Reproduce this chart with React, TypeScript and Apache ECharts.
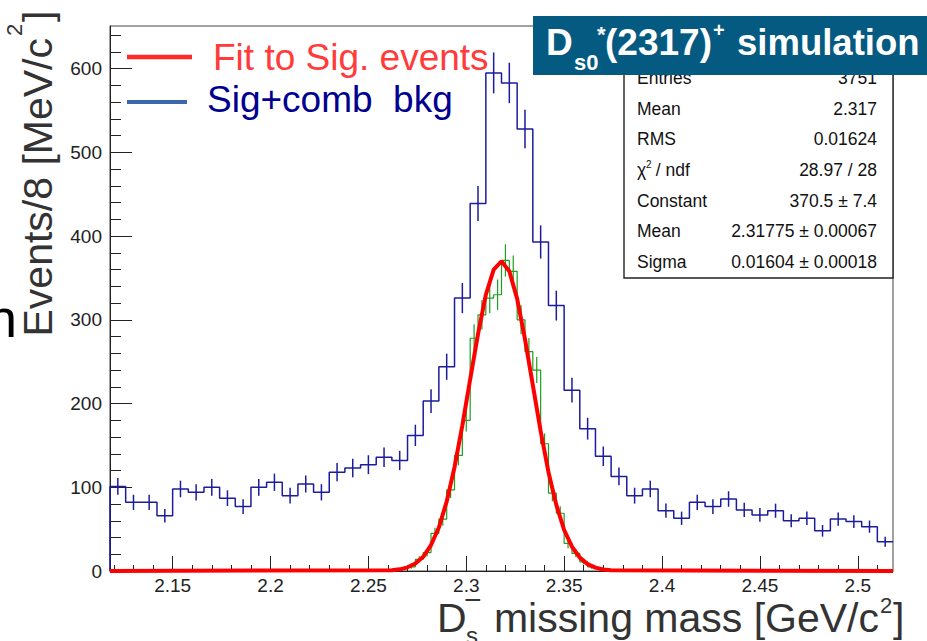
import React, { useEffect, useRef } from 'react';
import * as echarts from 'echarts';

const FONT = '"Liberation Sans", Arial, Helvetica, sans-serif';

// Axis ranges
const X_MIN = 2.118;
const X_MAX = 2.518;
const Y_MIN = 0;
const Y_MAX = 651;

// Tick labels
const xMajorTicks = [2.15, 2.2, 2.25, 2.3, 2.35, 2.4, 2.45, 2.5];
const xMajorLabels = ['2.15', '2.2', '2.25', '2.3', '2.35', '2.4', '2.45', '2.5'];
const yMajorTicks = [0, 100, 200, 300, 400, 500, 600];
const yMajorLabels = ['0', '100', '200', '300', '400', '500', '600'];

// Sig + combinatorial background histogram (8 MeV bins)
const blueBinLow = 2.118;
const blueBinWidth = 0.008;
const blueCounts = [101, 82, 82, 66, 98, 94, 100, 87, 77, 100, 106, 90, 104, 94, 118, 123, 127, 136, 132, 162,
  203, 244, 326, 439, 595, 583, 528, 393, 317, 216, 170, 137, 113, 90, 98, 72, 63, 82, 77, 86,
  73, 67, 72, 60, 63, 48, 62, 59, 53, 35];

// Signal-only histogram (4 MeV bins, non-empty range)
const greenBinLow = 2.262;
const greenBinWidth = 0.004;
const greenCounts = [2, 3, 5, 14, 22, 45, 62, 97, 138, 180, 278, 306, 326, 330, 371, 358, 300, 262, 240, 152,
  93, 69, 33, 21, 11, 5, 3, 1];

// Gaussian fit curve
const fitStart = 2.262;
const fitStep = 0.004;
const fitValues = [0.9, 2.0, 4.4, 9.0, 17, 31, 52, 83, 124, 174, 229, 283, 330, 360, 370, 358, 325, 277, 222,
  167, 118, 79, 49, 29, 16, 8.2, 4.0, 1.8, 0.8];

// Stats box
const statLabels = ['Entries', 'Mean', 'RMS', '', 'Constant', 'Mean', 'Sigma'];
const statValues = ['3751', '2.317', '0.01624', '28.97 / 28', '370.5 \u00b1 7.4', '2.31775 \u00b1 0.00067', '0.01604 \u00b1 0.00018'];

const BLUE = '#1c1c9c';
const GREEN = '#1f9f1f';
const RED = '#ff0000';

function App() {
  const ref = useRef<HTMLDivElement>(null);
  useEffect(() => {
    if (!ref.current) return;
    const chart = echarts.init(ref.current, undefined, { renderer: 'svg' });

    const xMinor: number[] = [];
    for (let k = 212; k <= 251; k++) xMinor.push(k / 100);
    const yMinor: number[] = [];
    for (let k = 0; k <= 640; k += 20) yMinor.push(k);

    const blueLine: number[][] = [[blueBinLow, 0]];
    blueCounts.forEach((v, i) => blueLine.push([blueBinLow + i * blueBinWidth, v]));
    blueLine.push([blueBinLow + blueCounts.length * blueBinWidth, blueCounts[blueCounts.length - 1]]);
    const blueErr = blueCounts.map((v, i) => [blueBinLow + (i + 0.5) * blueBinWidth, v]);

    const greenLine: number[][] = [[X_MIN, 0]];
    greenCounts.forEach((v, i) => greenLine.push([greenBinLow + i * greenBinWidth, v]));
    greenLine.push([greenBinLow + greenCounts.length * greenBinWidth, 0]);
    greenLine.push([X_MAX, 0]);
    const greenErr = greenCounts.map((v, i) => [greenBinLow + (i + 0.5) * greenBinWidth, v]);

    const fitLine: number[][] = [[X_MIN, 0]];
    fitValues.forEach((v, i) => fitLine.push([fitStart + i * fitStep, v]));
    fitLine.push([X_MAX, 0]);

    const errBars = (color: string, width: number) => (params: any, api: any) => {
      const x = api.value(0);
      const v = api.value(1);
      const e = Math.sqrt(v);
      const p1 = api.coord([x, v - e]);
      const p2 = api.coord([x, v + e]);
      return {
        type: 'line',
        shape: { x1: p1[0], y1: p1[1], x2: p2[0], y2: p2[1] },
        style: { stroke: color, lineWidth: width },
      };
    };

    const fmt = (ticks: number[], labels: string[]) => (v: number) => {
      const i = ticks.findIndex((t) => Math.abs(t - v) < 1e-9);
      return i >= 0 ? labels[i] : '';
    };

    const T = (text: string, x: number, y: number, fontSize: number, fill: string, extra: any = {}) => ({
      type: 'text',
      x,
      y,
      z: 100,
      ...extra,
      style: {
        text,
        fontSize,
        fontFamily: FONT,
        fill,
        verticalAlign: 'middle',
        align: 'left',
        ...(extra.style || {}),
      },
    });

    const elements: any[] = [];
    // stats box
    elements.push({ type: 'rect', z: 90, shape: { x: 624, y: 60, width: 269, height: 218 }, style: { fill: '#fff', stroke: '#222', lineWidth: 1.4 } });
    statLabels.forEach((lab, i) => {
      const y = 78.3 + i * 30.57;
      if (i === 3) {
        elements.push(T('\u03c7', 637, y, 17.5, '#111'));
        elements.push(T('2', 646, y - 6, 10, '#111'));
        elements.push(T(' / ndf', 651, y, 17.5, '#111'));
      } else {
        elements.push(T(lab, 637, y, 17.5, '#111'));
      }
      elements.push(T(statValues[i], 877, y, 17.5, '#111', { style: { align: 'right' } }));
    });
    // title box
    elements.push({ type: 'rect', z: 110, shape: { x: 533, y: 16, width: 400, height: 59 }, style: { fill: '#045a80' } });
    const tb = { z: 120, style: { fontWeight: 'bold' } };
    elements.push(T('D', 546, 42, 37, '#fff', tb));
    elements.push(T('s0', 574, 62, 22, '#fff', tb));
    elements.push(T('*', 597, 34, 22, '#fff', tb));
    elements.push(T('(2317)', 605, 42, 37, '#fff', tb));
    elements.push(T('+', 713, 30, 20, '#fff', tb));
    elements.push(T('simulation', 737, 42, 36.5, '#fff', tb));
    // legend
    elements.push({ type: 'line', z: 100, shape: { x1: 127, y1: 57, x2: 192, y2: 57 }, style: { stroke: '#ff2a2a', lineWidth: 4.5 } });
    elements.push(T('Fit to Sig. events', 213, 57.5, 37, '#ff3b3b'));
    elements.push({ type: 'line', z: 100, shape: { x1: 127, y1: 102, x2: 187, y2: 102 }, style: { stroke: '#3a68aa', lineWidth: 4 } });
    elements.push(T('Sig+comb  bkg', 207, 99, 37, '#000090'));
    // x title
    elements.push(T('D', 437, 618, 41, '#333'));
    elements.push(T('\u2212', 464, 599, 30, '#333'));
    elements.push(T('s', 466, 635, 24, '#333'));
    elements.push(T('missing mass [GeV/c', 879, 618, 41, '#333', { style: { align: 'right' } }));
    elements.push(T('2', 880, 605, 22, '#333'));
    elements.push(T(']', 893, 618, 41, '#333'));
    // y title (rotated)
    const rot = Math.PI / 2;
    elements.push(T('Events/8 [MeV/c', 38, 38, 41, '#333', { rotation: rot, style: { align: 'right' } }));
    elements.push(T('2', 14, 36, 22, '#333', { rotation: rot }));
    elements.push(T(']', 38, 22, 41, '#333', { rotation: rot }));
    // stray glyph at left edge
    elements.push(T('n', -13, 318, 54, '#000'));

    const option: any = {
      animation: false,
      textStyle: { fontFamily: FONT },
      grid: { left: 110, right: 34, top: 26, bottom: 70, show: true, borderColor: '#444', borderWidth: 1 },
      xAxis: [
        {
          type: 'value', min: X_MIN, max: X_MAX, position: 'bottom',
          axisLine: { show: true, onZero: false, lineStyle: { color: '#222', width: 1 } },
          axisTick: { show: true, inside: true, length: 15, customValues: xMajorTicks, lineStyle: { color: '#222' } },
          axisLabel: { show: true, customValues: xMajorTicks, formatter: fmt(xMajorTicks, xMajorLabels), color: '#222', fontSize: 19, margin: 5, fontFamily: FONT },
          splitLine: { show: false },
        },
        {
          type: 'value', min: X_MIN, max: X_MAX, position: 'bottom',
          axisLine: { show: false, onZero: false },
          axisTick: { show: true, inside: true, length: 6, customValues: xMinor, lineStyle: { color: '#222' } },
          axisLabel: { show: false },
          splitLine: { show: false },
        },
      ],
      yAxis: [
        {
          type: 'value', min: Y_MIN, max: Y_MAX, position: 'left',
          axisLine: { show: true, onZero: false, lineStyle: { color: '#222', width: 1 } },
          axisTick: { show: true, inside: true, length: 22, customValues: yMajorTicks, lineStyle: { color: '#222' } },
          axisLabel: { show: true, customValues: yMajorTicks, formatter: fmt(yMajorTicks, yMajorLabels), color: '#222', fontSize: 19, margin: 8, fontFamily: FONT },
          splitLine: { show: false },
        },
        {
          type: 'value', min: Y_MIN, max: Y_MAX, position: 'left',
          axisLine: { show: false, onZero: false },
          axisTick: { show: true, inside: true, length: 11, customValues: yMinor, lineStyle: { color: '#222' } },
          axisLabel: { show: false },
          splitLine: { show: false },
        },
      ],
      series: [
        { type: 'line', data: blueLine, step: 'end', symbol: 'none', lineStyle: { color: BLUE, width: 1.5 }, z: 2 },
        { type: 'custom', data: blueErr, renderItem: errBars(BLUE, 1.5), z: 2 },
        { type: 'line', data: greenLine, step: 'end', symbol: 'none', lineStyle: { color: GREEN, width: 1.2 }, z: 3 },
        { type: 'custom', data: greenErr, renderItem: errBars(GREEN, 1.2), z: 3 },
        { type: 'line', data: fitLine, symbol: 'none', lineStyle: { color: RED, width: 4 }, z: 5 },
      ],
      graphic: { elements },
    };
    chart.setOption(option);
    return () => chart.dispose();
  }, []);
  return <div ref={ref} style={{ position: 'fixed', left: 0, top: 0, width: 927, height: 641, background: '#fff' }} />;
}

export default App;
